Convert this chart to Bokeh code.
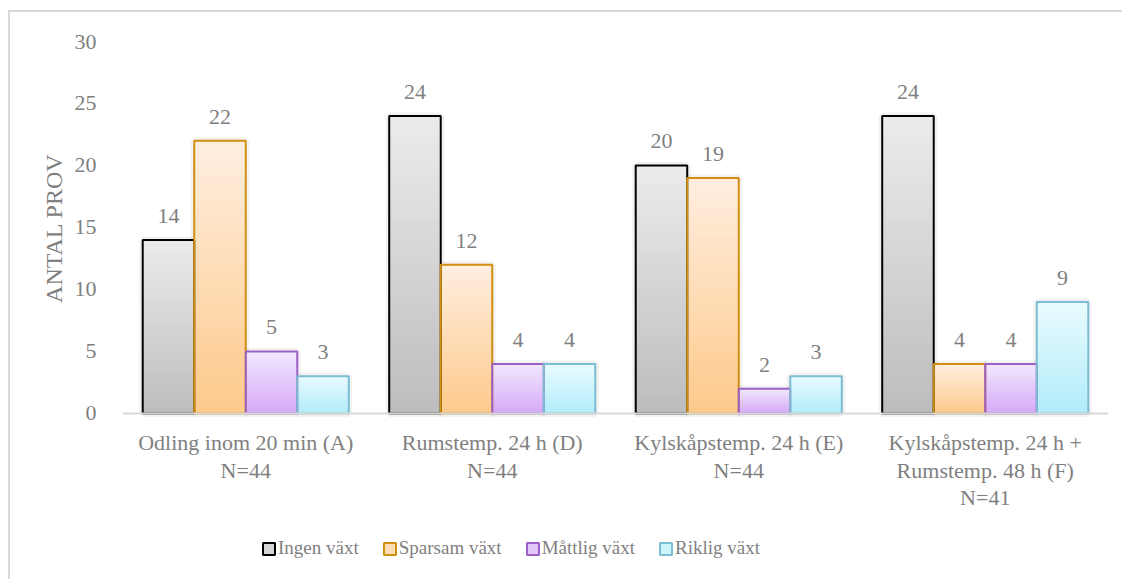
import numpy as np
from bokeh.plotting import figure
from bokeh.models import (ColumnDataSource, Range1d, FixedTicker, Legend, LegendItem,
                          Span, Title)
from bokeh.core.properties import value
from bokeh.embed import file_html
from bokeh.resources import INLINE

# ---- data ----
categories = ["Odling inom 20 min (A)\nN=44",
              "Rumstemp. 24 h (D)\nN=44",
              "Kylskåpstemp. 24 h (E)\nN=44",
              "Kylskåpstemp. 24 h +\nRumstemp. 48 h (F)\nN=41"]
series_names = ["Ingen växt", "Sparsam växt", "Måttlig växt", "Riklig växt"]
ingen = [14, 24, 20, 24]
sparsam = [22, 12, 19, 4]
mattlig = [5, 4, 2, 4]
riklig = [3, 4, 3, 9]
y_ticks = [0, 5, 10, 15, 20, 25, 30]

# ---- style ----
FONT = "'Liberation Serif', 'Times New Roman', serif"
TXT = "#7f7f7f"
bottom_cols = ["#bdbdbd", "#fdca8c", "#d6a9f8", "#b2ecfa"]
top_cols = ["#ebebeb", "#ffeedf", "#f1e7fe", "#e8fbfe"]
line_cols = ["#000000", "#d18f10", "#9c60c6", "#7dbdd1"]

series_vals = [ingen, sparsam, mattlig, riklig]
n_cat = len(categories)
bar_w = 0.209
offsets = [(-1.5 + i) * bar_w for i in range(4)]

p = figure(width=1114, height=569, output_backend="svg", toolbar_location=None,
           x_range=Range1d(0, n_cat), y_range=Range1d(-13.55, 30),
           min_border_left=112, min_border_right=16, min_border_top=29,
           min_border_bottom=0)
p.styles = {"margin-left": "8px", "margin-top": "10px",
            "border-left": "2px solid #d9d9d9", "border-top": "2px solid #d9d9d9"}
p.outline_line_color = None
p.xgrid.visible = False
p.ygrid.visible = False
p.xaxis.visible = False
p.background_fill_color = "white"
p.border_fill_color = "white"


def hex2rgb(h):
    h = h.lstrip("#")
    return np.array([int(h[i:i + 2], 16) for i in (0, 2, 4)], dtype=float)


def rgbhex(a):
    return "#%02x%02x%02x" % tuple(int(round(v)) for v in a)


# soft shadow halo under the bars
for s in range(4):
    vals = series_vals[s]
    xs = [c + 0.5 + offsets[s] for c in range(n_cat)]
    sh = ColumnDataSource(dict(x=xs, top=vals))
    p.vbar(x="x", top="top", bottom=0, width=bar_w, source=sh,
           fill_color=None, line_color="#000000", line_alpha=0.05, line_width=7)

N = 40
for s in range(4):
    vals = series_vals[s]
    c0 = hex2rgb(bottom_cols[s])
    c1 = hex2rgb(top_cols[s])
    L, R, B, T, C = [], [], [], [], []
    for k in range(N):
        t = k / (N - 1)
        hexcol = rgbhex(c0 + (c1 - c0) * t)
        for c in range(n_cat):
            xc = c + 0.5 + offsets[s]
            L.append(xc - bar_w / 2)
            R.append(xc + bar_w / 2)
            B.append(vals[c] * k / N)
            T.append(vals[c])
            C.append(hexcol)
    src = ColumnDataSource(dict(left=L, right=R, bottom=B, top=T, color=C))
    p.quad(left="left", right="right", bottom="bottom", top="top", source=src,
           fill_color="color", line_color=None)

# baseline
p.add_layout(Span(location=0, dimension="width", line_color="#d9d9d9", line_width=2))

# outlines + labels
legend_items = []
for s in range(4):
    vals = series_vals[s]
    xs = [c + 0.5 + offsets[s] for c in range(n_cat)]
    src = ColumnDataSource(dict(x=xs, top=vals, lab=[str(v) for v in vals]))
    p.vbar(x="x", top="top", bottom=0, width=bar_w, source=src,
           fill_color=None, line_color=line_cols[s], line_width=2)
    p.text(x="x", y="top", text="lab", source=src, text_align="center",
           text_baseline="alphabetic", y_offset=-24,
           text_font=value(FONT), text_font_size="22px", text_color=TXT)
    mid = (hex2rgb(bottom_cols[s]) + hex2rgb(top_cols[s])) / 2
    # legend-only swatch renderer (NaN coordinates, draws nothing in the plot)
    dummy = p.quad(left=[np.nan], right=[np.nan], bottom=[np.nan], top=[np.nan],
                   fill_color=rgbhex(mid), line_color=line_cols[s], line_width=2)
    legend_items.append(LegendItem(label=series_names[s], renderers=[dummy], index=0))

# category labels
cat_src = ColumnDataSource(dict(x=[c + 0.5 for c in range(n_cat)],
                                y=[0] * n_cat, lab=categories))
p.text(x="x", y="y", text="lab", source=cat_src, text_align="center",
       text_baseline="top", y_offset=17, text_line_height=1.1,
       text_font=value(FONT), text_font_size="22px", text_color=TXT)

# y axis
ya = p.yaxis[0]
ya.ticker = FixedTicker(ticks=y_ticks)
ya.axis_line_color = None
ya.major_tick_line_color = None
ya.minor_tick_line_color = None
ya.major_label_standoff = 20
ya.major_label_text_font = FONT
ya.major_label_text_font_size = "22px"
ya.major_label_text_color = TXT

ytitle = Title(text="ANTAL PROV", align="right", offset=112,
               text_font=FONT, text_font_size="24px", text_font_style="normal",
               text_color=TXT, standoff=10)
p.add_layout(ytitle, "left")

legend = Legend(items=legend_items, orientation="horizontal", location=(139, 22),
                glyph_width=15, glyph_height=15, label_standoff=2, spacing=23,
                padding=0, margin=0, border_line_color=None, background_fill_alpha=0,
                label_text_font=FONT, label_text_font_size="19px",
                label_text_color=TXT, label_height=20)
p.add_layout(legend, "center")

open("out.html", "w").write(file_html(p, INLINE))
